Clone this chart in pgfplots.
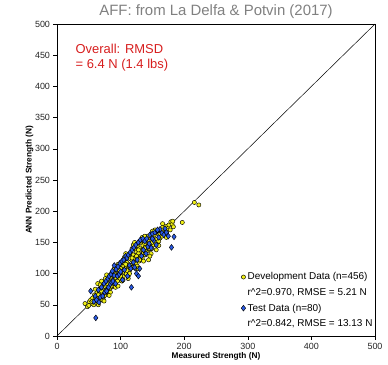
\documentclass[border=0pt]{standalone}
\usepackage{pgfplots}
\pgfplotsset{compat=1.18}
\usepackage{fontspec}
\setmainfont{Liberation Sans}
\definecolor{devyel}{RGB}{240,240,20}
\definecolor{testblue}{RGB}{40,90,230}
\definecolor{ttlgray}{RGB}{128,128,128}
\definecolor{rmsdred}{RGB}{215,30,30}
\begin{document}
\begin{tikzpicture}
\useasboundingbox (-57bp,-29bp) rectangle (331bp,336bp);
\begin{axis}[
  at={(0,0)}, anchor=south west,
  scale only axis, width=318bp, height=312bp,
  xmin=0, xmax=500, ymin=0, ymax=500,
  xtick={0,100,...,500}, ytick={0,50,...,500},
  tick align=outside, tick pos=left,
  major tick length=3.5bp,
  axis line style={line width=0.9pt},
  tick style={black, line width=0.5pt},
  /pgf/number format/assume math mode=true,
  ticklabel style={font=\fontsize{9}{10}\selectfont, color=black!85},
  xlabel={\textbf{Measured Strength (N)}},
  ylabel={\textbf{ANN Predicted Strength (N)}},
  label style={font=\fontsize{8.3}{9}\selectfont},
  xlabel style={at={(axis description cs:0.5,0)}, anchor=base, yshift=-22bp},
  ylabel style={at={(axis description cs:-0.08,0.5)}, anchor=base},
  title={AFF: from La Delfa \& Potvin (2017)},
  title style={at={(axis description cs:0.5,1)}, anchor=base, yshift=3bp, font=\fontsize{15}{17}\selectfont, color=ttlgray},
  clip=false,
  legend cell align=left,
  legend style={at={(0.575,0.21)}, anchor=north west, draw=none, fill=none,
    font=\fontsize{10}{11}\selectfont, row sep=3bp, inner sep=0bp},
  legend image code/.code={\draw[#1] plot coordinates {(0.12cm,0cm)};},
]
\addplot[black, line width=0.5pt, forget plot] coordinates {(0,0) (500,500)};
\addplot[only marks, mark=*, mark size=2.1bp, mark options={fill=devyel, draw=black, line width=0.45pt}] coordinates {
(44,52)(48,47)(51,55)(50,49)(53,58)(55,52)(56,61)(58,50)(59,66)(60,57)(61,63)(62,54)(63,70)(64,84)(65,60)(66,72)(67,64)(68,58)(69,77)(70,66)
(71,80)(72,69)(73,62)(74,85)(75,73)(76,79)(77,68)(78,88)(79,75)(80,82)(81,71)(82,92)(83,80)(84,77)(85,96)(86,86)(87,79)(88,99)(89,90)(90,84)(91,102)(92,93)(93,87)(94,106)(95,96)(96,89)(97,110)(98,100)(99,92)(100,108)
(101,98)(102,115)(103,104)(104,95)(105,112)(106,102)(107,120)(108,109)(109,100)(110,118)(111,107)(112,126)(113,114)(114,105)(115,124)(116,113)(117,132)(118,121)(119,110)(120,130)(121,118)(122,140)(123,126)(124,116)(125,135)(126,123)(127,145)(128,132)(129,120)(130,140)(131,128)(132,150)(133,137)(134,125)(135,145)(136,133)(137,152)(138,141)(139,130)(140,148)
(141,136)(142,155)(143,145)(144,138)(145,152)(146,142)(147,158)(148,149)(149,140)(150,157)(152,146)(153,162)(154,152)(156,166)(157,155)(158,148)(160,163)(161,170)(162,157)(164,168)(165,160)(166,174)(168,166)(170,162)(171,176)(172,168)(174,172)(176,178)(178,170)(179,183)(181,179)(182,184)(183,175)(197,182)(216,214)(223,210)
(75,65)(80,90)(85,80)(90,100)(95,88)(100,96)(105,118)(110,105)(115,110)(120,124)(125,128)(130,122)(135,138)(140,135)(145,140)(150,150)(155,150)(160,152)(165,170)(65,66)(70,72)(60,60)(55,55)(80,78)(88,85)(98,105)(108,115)(118,125)(128,138)(138,148)
(68,82)(72,58)(76,92)(82,70)(86,101)(92,78)(96,115)(102,88)(106,126)(112,96)(118,140)(124,108)(130,152)(136,120)(142,160)(148,132)(154,170)(160,145)(166,180)(172,158)(84,70)(90,108)(100,118)(110,130)(120,146)(104,90)(114,100)(126,112)(134,158)(146,128)
(60,75)(65,50)(78,98)(82,65)(92,112)(96,80)(108,132)(112,92)(122,150)(128,108)(138,160)(144,122)(150,168)(156,138)(70,88)(74,56)
};
\addlegendentry{Development Data (n=456)}
\addlegendimage{empty legend}
\addlegendentry{r\textasciicircum 2=0.970, RMSE = 5.21 N}
\addplot[only marks, mark=diamond*, mark size=2.9bp, mark options={fill=testblue, draw=black, line width=0.45pt}] coordinates {
(53,72)(61,29)(58,55)(60,64)(62,58)(65,74)(66,54)(68,62)(70,78)(72,64)(74,84)(75,70)(77,88)(78,72)(80,92)(81,78)(82,96)(84,83)(85,99)(86,86)(87,104)(88,88)(90,113)(90,97)(92,84)(93,107)(95,96)(96,111)(98,99)(99,116)(100,103)(102,120)(103,90)(105,122)(106,106)(108,128)(110,125)(111,96)(112,130)(114,113)(115,134)(116,108)(117,78)(118,138)(120,118)(121,142)(122,110)(124,146)(125,100)(126,122)(128,96)(128,150)(130,108)(131,154)(133,128)(135,156)(136,138)(138,152)(140,132)(141,156)(143,143)(145,148)(146,162)(148,141)(150,164)(152,153)(154,166)(156,146)(158,168)(160,158)(162,171)(165,165)(168,162)(170,172)(172,166)(175,160)(180,142)(184,159)(158,170)(150,156)
};
\addlegendentry{Test Data (n=80)}
\addlegendimage{empty legend}
\addlegendentry{r\textasciicircum 2=0.842, RMSE = 13.13 N}
\node[anchor=north west, align=left, text=rmsdred, font=\fontsize{13}{15}\selectfont, inner sep=0pt] at (axis cs:29,468) {Overall: RMSD\\= 6.4 N (1.4 lbs)};
\end{axis}
\end{tikzpicture}
\end{document}
